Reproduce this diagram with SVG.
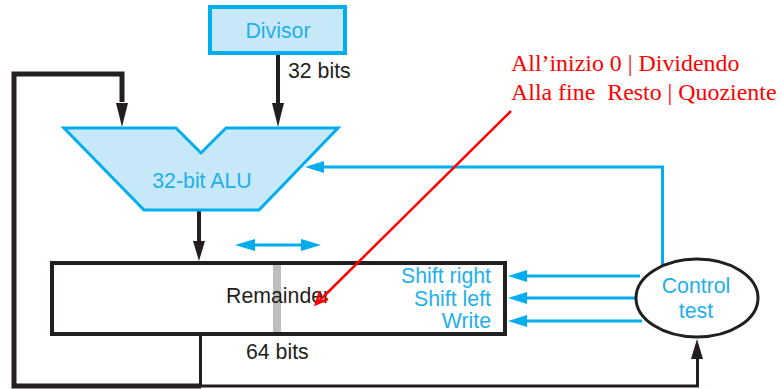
<svg xmlns="http://www.w3.org/2000/svg" width="782" height="389" viewBox="0 0 782 389">
<style>
.sans{font-family:"Liberation Sans",Arial,sans-serif;font-size:21.3px}
.blue{fill:#1fb0ec}
.dark{fill:#231f20}
.red{font-family:"Liberation Serif","Times New Roman",serif;font-size:23.9px;fill:#ff0000}
.bk{fill:none;stroke:#231f20;stroke-linejoin:miter}
.bl{fill:none;stroke:#00aeef;stroke-width:3}
.ah{fill:#231f20}
.ab{fill:#00aeef}
</style>
<rect width="782" height="389" fill="#fff"/>
<g id="connectors">
<path class="bk" stroke-width="5" d="M122 102V74H14V386H201"/>
<path class="bk" stroke-width="4" d="M278 54V108"/>
<path class="bk" stroke-width="4" d="M199 210V242"/>
<path class="bk" stroke-width="3" d="M200.500 335V386H697.500V350"/>
<polygon class="ah" points="116,103 128,103 122,127"/>
<polygon class="ah" points="272,103 284,103 278,127"/>
<polygon class="ah" points="193,241 205,241 199,261"/>
<polygon class="ah" points="691,359 703,359 697,339"/>
<path class="bl" d="M662.500 266V167H322"/>
<polygon class="ab" points="305,167 324,161 324,173"/>
<path class="bl" d="M640 276H525M635 298H525M642 321H525"/>
<polygon class="ab" points="508,276 527,270 527,282"/>
<polygon class="ab" points="508,298 527,292 527,304"/>
<polygon class="ab" points="508,321 527,315 527,327"/>
<path class="bl" d="M250 245H305"/>
<polygon class="ab" points="235,245 255,239 255,251"/>
<polygon class="ab" points="321,245 301,239 301,251"/>
</g>
<g id="divisor">
<rect x="210" y="7" width="135" height="46" fill="#c7e8f9" stroke="#00aeef" stroke-width="4"/>
<text class="sans blue" x="278" y="38" text-anchor="middle">Divisor</text>
</g>
<text class="sans dark" x="288" y="78">32 bits</text>
<g id="alu">
<polygon points="64,128 176,128 201,153 226,128 338,128 259,210 144,210" fill="#c7e8f9" stroke="#00aeef" stroke-width="3"/>
<text class="sans blue" x="202" y="188" text-anchor="middle">32-bit ALU</text>
</g>
<g id="remainder">
<rect x="52" y="263" width="453" height="71" fill="#fff" stroke="#231f20" stroke-width="4"/>
<rect x="273" y="265" width="8" height="67" fill="#bcbec0"/>
<text class="sans dark" x="226" y="303">Remainder</text>
<text class="sans blue" x="491" y="283" text-anchor="end">Shift right</text>
<text class="sans blue" x="491" y="306" text-anchor="end">Shift left</text>
<text class="sans blue" x="491" y="328" text-anchor="end">Write</text>
</g>
<text class="sans dark" x="246" y="359">64 bits</text>
<g id="control">
<ellipse cx="697" cy="298" rx="61" ry="39" fill="#fff" stroke="#231f20" stroke-width="3"/>
<text class="sans blue" x="696" y="293" text-anchor="middle">Control</text>
<text class="sans blue" x="696" y="318" text-anchor="middle">test</text>
</g>
<g id="annotation">
<text class="red" x="511" y="71">All’inizio 0 | Dividendo</text>
<text class="red" x="511" y="100" xml:space="preserve">Alla fine  Resto | Quoziente</text>
<path d="M511 111L318 302" fill="none" stroke="#ff0000" stroke-width="2.500"/>
<path d="M320 291L316 304L328 299" fill="none" stroke="#ff0000" stroke-width="2.500"/>
</g>
</svg>
